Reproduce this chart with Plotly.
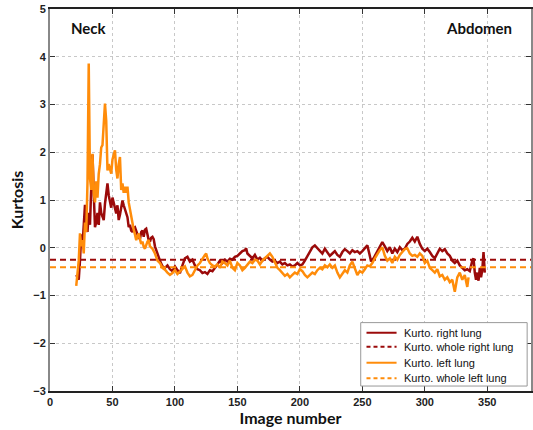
import plotly.graph_objects as go

right_x = [21,23,24,25,26,27,28,29,30,31,32,33,34,35,36,37,38,39,40,41,42,43,44,45,46,47,48,49,50,51,52,53,54,55,56,57,58,59,60,61,62,63,64,65,66,67,68,70,71,72,73,74,75,76,77,78,79,80,81,82,83,84,85,86,87,88,90,92,94,96,98,100,102,104,106,108,110,112,114,116,118,120,122,124,126,128,130,132,134,136,138,140,142,144,146,148,150,152,154,156,157,158,160,162,164,166,168,170,172,174,176,178,180,182,184,186,188,190,192,194,196,198,200,202,204,206,208,210,212,214,216,218,220,222,224,226,228,230,232,234,236,238,240,242,244,246,248,250,252,254,256,257,259,261,263,265,266,268,270,272,274,276,278,280,282,284,286,288,290,292,294,296,298,300,302,304,306,308,310,312,314,316,318,320,322,324,326,328,330,332,334,336,338,339,340,341,342,343,344,345,346,347,348]
right_y = [-0.57,-0.67,-0.27,0.28,0.03,0.53,0.90,0.43,0.33,0.73,0.48,1.25,1.95,1.15,0.43,0.53,0.73,0.48,0.95,0.73,0.63,0.58,0.92,1.15,1.35,1.10,0.99,0.84,1.05,0.94,0.79,0.72,0.89,0.58,0.69,0.84,0.99,0.89,0.79,0.72,0.64,0.43,0.48,0.36,0.33,0.41,0.43,0.28,0.23,0.18,0.33,0.36,0.23,0.38,0.40,0.28,0.16,0.13,0.21,0.23,0.18,0.03,-0.05,-0.12,-0.17,-0.27,-0.39,-0.42,-0.37,-0.45,-0.49,-0.39,-0.47,-0.53,-0.37,-0.22,-0.19,-0.29,-0.25,-0.37,-0.45,-0.47,-0.53,-0.51,-0.55,-0.47,-0.49,-0.43,-0.35,-0.27,-0.32,-0.25,-0.29,-0.23,-0.25,-0.19,-0.17,-0.12,-0.07,-0.05,-0.01,-0.12,-0.17,-0.22,-0.15,-0.25,-0.21,-0.27,-0.22,-0.19,-0.25,-0.29,-0.27,-0.32,-0.29,-0.35,-0.32,-0.37,-0.35,-0.39,-0.37,-0.32,-0.37,-0.35,-0.27,-0.17,-0.07,0.01,0.05,-0.01,-0.05,-0.12,-0.02,-0.09,-0.17,-0.12,-0.07,-0.15,-0.19,-0.09,-0.03,-0.07,-0.12,-0.05,-0.09,-0.07,-0.12,-0.07,-0.02,0.05,-0.17,-0.29,-0.22,-0.12,-0.02,0.08,0.12,0.03,-0.07,0.01,-0.12,-0.02,-0.09,0.01,-0.05,-0.02,0.08,0.13,0.21,0.13,0.23,0.08,-0.02,-0.07,-0.02,-0.09,-0.17,-0.22,-0.12,-0.02,-0.07,-0.03,-0.12,-0.17,-0.27,-0.32,-0.27,-0.37,-0.42,-0.47,-0.45,-0.49,-0.27,-0.22,-0.52,-0.67,-0.52,-0.69,-0.42,-0.62,-0.47,-0.09,-0.52]

left_x = [21,22,23,24,25,26,27,28,29,30,31,32,33,34,35,36,37,38,39,40,41,42,43,44,45,46,47,48,49,50,51,52,53,54,55,56,57,58,59,60,61,62,63,64,65,66,67,68,69,70,71,72,73,74,75,76,77,78,79,80,82,84,86,88,90,92,94,96,98,100,102,104,106,108,110,112,114,116,118,120,122,124,125,126,128,130,132,134,136,138,140,142,144,146,148,150,152,154,156,158,160,162,164,166,168,170,172,174,176,178,180,182,184,186,188,190,192,194,196,198,200,202,204,206,208,210,212,214,216,218,220,222,224,226,228,230,232,234,236,238,240,242,244,246,248,250,252,254,256,258,260,262,264,266,268,270,272,274,276,278,280,282,284,286,288,290,292,294,296,298,300,302,304,306,308,310,312,314,316,318,320,322,324,326,328,330,332,334,335]
left_y = [-0.80,-0.57,-0.27,0.30,0.03,0.16,-0.12,0.53,0.33,1.35,3.86,1.45,1.21,1.97,1.15,0.95,1.39,1.05,1.55,1.75,2.10,2.15,2.56,3.02,2.66,1.62,1.75,1.65,1.55,1.85,1.95,2.04,1.63,1.45,1.75,1.90,1.21,1.35,1.15,1.28,1.15,1.28,0.95,0.79,0.65,0.53,0.38,0.28,0.16,0.23,0.30,0.18,0.08,0.13,0.02,-0.02,0.08,0.13,0.16,0.03,-0.02,-0.12,-0.27,-0.32,-0.42,-0.46,-0.52,-0.57,-0.53,-0.47,-0.55,-0.49,-0.43,-0.39,-0.52,-0.60,-0.57,-0.47,-0.37,-0.32,-0.22,-0.15,-0.12,-0.22,-0.32,-0.37,-0.39,-0.35,-0.42,-0.29,-0.32,-0.37,-0.27,-0.42,-0.47,-0.32,-0.37,-0.47,-0.42,-0.35,-0.29,-0.32,-0.25,-0.27,-0.35,-0.27,-0.22,-0.19,-0.12,-0.19,-0.32,-0.42,-0.47,-0.52,-0.59,-0.55,-0.62,-0.57,-0.52,-0.55,-0.45,-0.49,-0.57,-0.62,-0.57,-0.52,-0.55,-0.47,-0.42,-0.45,-0.37,-0.41,-0.35,-0.42,-0.37,-0.52,-0.62,-0.55,-0.47,-0.52,-0.37,-0.29,-0.42,-0.57,-0.49,-0.52,-0.45,-0.37,-0.39,-0.32,-0.22,-0.12,-0.05,0.01,-0.17,-0.27,-0.22,-0.32,-0.19,-0.25,-0.15,-0.09,-0.03,-0.01,-0.12,-0.17,-0.15,-0.19,-0.12,-0.17,-0.32,-0.27,-0.42,-0.47,-0.52,-0.45,-0.60,-0.57,-0.67,-0.62,-0.72,-0.67,-0.92,-0.62,-0.52,-0.67,-0.57,-0.82,-0.62]

whole_right = -0.25
whole_left = -0.41
x_range = [0, 385]
x_ticks = [0, 50, 100, 150, 200, 250, 300, 350]
y_ticks = [-3, -2, -1, 0, 1, 2, 3, 4, 5]
legend_labels = ["Kurto. right lung", "Kurto. whole right lung",
                 "Kurto. left lung", "Kurto. whole left lung"]

RED = "#9B0A0A"
ORANGE = "#FF8C0A"
legend_colors = [RED, RED, ORANGE, ORANGE]
legend_dash = ["solid", "4px,3px", "solid", "4px,3px"]

fig = go.Figure()
fig.add_trace(go.Scatter(x=right_x, y=right_y, mode="lines", name=legend_labels[0],
                         line=dict(color=RED, width=2.5)))
fig.add_trace(go.Scatter(x=x_range, y=[whole_right, whole_right], mode="lines",
                         name=legend_labels[1],
                         line=dict(color=RED, width=2, dash="6px,4px")))
fig.add_trace(go.Scatter(x=left_x, y=left_y, mode="lines", name=legend_labels[2],
                         line=dict(color=ORANGE, width=2.5)))
fig.add_trace(go.Scatter(x=x_range, y=[whole_left, whole_left], mode="lines",
                         name=legend_labels[3],
                         line=dict(color=ORANGE, width=2, dash="6px,4px")))

tickfont = dict(family="Liberation Sans, Arial", size=11, color="#222222", weight="bold")
titlefont = dict(family="Lato, Open Sans", size=16, color="#111111")

# manual legend (box, samples, labels) in paper coordinates
shapes = [dict(type="rect", xref="paper", yref="paper", x0=0.646, x1=0.992,
               y0=0.013, y1=0.179, line=dict(color="#999999", width=1),
               fillcolor="white", layer="above")]
annotations = [
    dict(text="<b>Neck</b>", x=15, y=4.6, xref="x", yref="y", showarrow=False,
         xanchor="left", font=dict(family="Lato, Open Sans", size=15, color="#111111")),
    dict(text="<b>Abdomen</b>", x=371, y=4.6, xref="x", yref="y", showarrow=False,
         xanchor="right", font=dict(family="Lato, Open Sans", size=15, color="#111111")),
]
row_y = [0.1525, 0.1158, 0.0740, 0.0332]
for lab, col, dsh, ry in zip(legend_labels, legend_colors, legend_dash, row_y):
    shapes.append(dict(type="line", xref="paper", yref="paper", x0=0.658, x1=0.7205,
                       y0=ry, y1=ry, line=dict(color=col, width=2, dash=dsh),
                       layer="above"))
    annotations.append(dict(text=lab, x=0.7308, y=ry, xref="paper", yref="paper",
                            showarrow=False, xanchor="left", yanchor="middle",
                            font=dict(family="Liberation Sans, Arial", size=11,
                                      color="#111111")))

fig.update_layout(
    width=533, height=430,
    margin=dict(l=50, r=0, t=9, b=39),
    paper_bgcolor="white", plot_bgcolor="white",
    showlegend=False,
    xaxis=dict(range=x_range, tickvals=x_ticks, ticks="inside", ticklen=5,
               tickcolor="#333333", tickfont=tickfont,
               showgrid=True, gridcolor="#c8c8c8", griddash="dot", gridwidth=1,
               showline=True, linecolor="#222222", linewidth=1.5, mirror="ticks",
               zeroline=False,
               title=dict(text="<b>Image number</b>", font=titlefont, standoff=4)),
    yaxis=dict(range=[-3, 5], tickvals=y_ticks, ticks="inside", ticklen=5,
               tickcolor="#333333", tickfont=tickfont,
               showgrid=True, gridcolor="#c8c8c8", griddash="dot", gridwidth=1,
               showline=True, linecolor="#888888", linewidth=2, mirror="ticks",
               zeroline=False,
               title=dict(text="<b>Kurtosis</b>", font=titlefont, standoff=6)),
    shapes=shapes,
    annotations=annotations,
)

fig.write_html("out.html")
